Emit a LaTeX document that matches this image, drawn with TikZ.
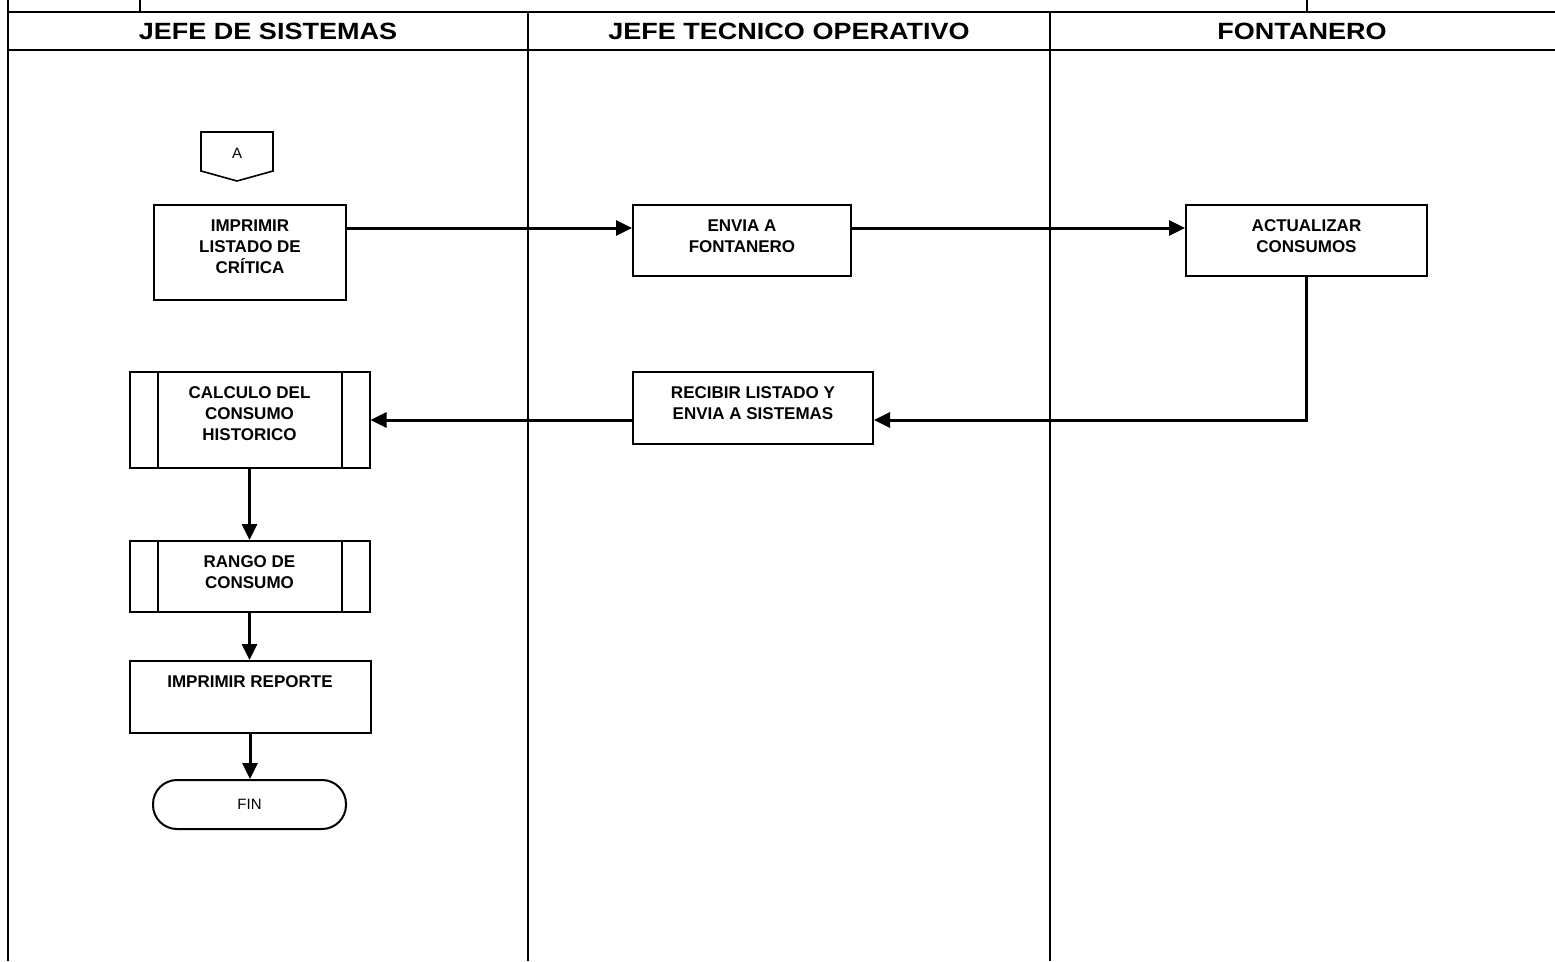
\documentclass[tikz,border=0pt]{standalone}
\usepackage{fontspec}
\setmainfont{Liberation Sans}
\newfontfamily\hdrfont[FakeStretch=1.15]{Liberation Sans}
\usetikzlibrary{arrows.meta}
\newcommand\bxt[3]{\parbox[c][#2][t]{#1}{\centering\fontsize{17}{21}\bfseries\selectfont\rule{0pt}{26pt}#3}}
\tikzset{
  box/.style={draw, line width=2pt, inner sep=0pt},
  arr/.style={line width=3pt, -{Triangle[length=16pt,width=15pt]}},
  lane/.style={line width=1.4pt},
  hline/.style={line width=2.6pt},
  hdr/.style={font=\hdrfont\bfseries\fontsize{23.5}{26}\selectfont},
  small/.style={font=\fontsize{15}{18}\selectfont}
}
\begin{document}
\begin{tikzpicture}[x=1pt,y=-1pt]
\useasboundingbox (0,0) rectangle (1555,961);
% frame
\draw[lane] (8,0) -- (8,961);
\draw[lane] (140,0) -- (140,12);
\draw[lane] (1307,0) -- (1307,12);
\draw[hline] (8,12) -- (1555,12);
\draw[hline] (8,50) -- (1555,50);
\draw[lane] (528,12) -- (528,961);
\draw[lane] (1050,12) -- (1050,961);
\node[hdr] (h1) at (268,31) {JEFE DE SISTEMAS};
\node[hdr] (h2) at (789,31) {JEFE TECNICO OPERATIVO};
\node[hdr] (h3) at (1302,31) {FONTANERO};
% off-page connector
\draw[line width=1.6pt] (201,132) -- (273,132) -- (273,171) -- (237,181) -- (201,171) -- cycle;
\node[small] (A) at (237,153) {A};
% boxes
\node[box] (imp) at (250,252.5) {\bxt{192pt}{95pt}{IMPRIMIR\\LISTADO DE\\CRÍTICA}};
\node[box] (env) at (742,240.5) {\bxt{218pt}{71pt}{ENVIA A\\FONTANERO}};
\node[box] (act) at (1306.5,240.5) {\bxt{241pt}{71pt}{ACTUALIZAR\\CONSUMOS}};
\node[box] (rec) at (753,408) {\bxt{240pt}{72pt}{RECIBIR LISTADO Y\\ENVIA A SISTEMAS}};
\node[box] (calc) at (249.5,420) {\bxt{240pt}{96pt}{CALCULO DEL\\CONSUMO\\HISTORICO}};
\draw[line width=2pt] ([xshift=29pt]calc.north west) -- ([xshift=29pt]calc.south west);
\draw[line width=2pt] ([xshift=-29pt]calc.north east) -- ([xshift=-29pt]calc.south east);
\node[box] (rng) at (249.5,576.5) {\bxt{240pt}{71pt}{RANGO DE\\CONSUMO}};
\draw[line width=2pt] ([xshift=29pt]rng.north west) -- ([xshift=29pt]rng.south west);
\draw[line width=2pt] ([xshift=-29pt]rng.north east) -- ([xshift=-29pt]rng.south east);
\node[box] (rep) at (250,697) {\bxt{241pt}{72pt}{IMPRIMIR REPORTE}};
\node[draw, line width=2pt, rounded corners=24pt, minimum width=193pt, minimum height=49pt, small] (fin) at (249.5,804.5) {FIN};
% connectors
\draw[arr] ([yshift=24.5pt]imp.east) -- ([yshift=12.5pt]env.west);
\draw[arr] ([yshift=12.5pt]env.east) -- ([yshift=12.5pt]act.west);
\draw[arr] (act.south) |- ([yshift=-12pt]rec.east);
\draw[arr] ([yshift=-12pt]rec.west) -- (calc.east);
\draw[arr] (calc.south) -- (calc.south |- rng.north);
\draw[arr] (rng.south) -- (rng.south |- rep.north);
\draw[arr] (rep.south) -- (rep.south |- fin.north);
\end{tikzpicture}
\end{document}
